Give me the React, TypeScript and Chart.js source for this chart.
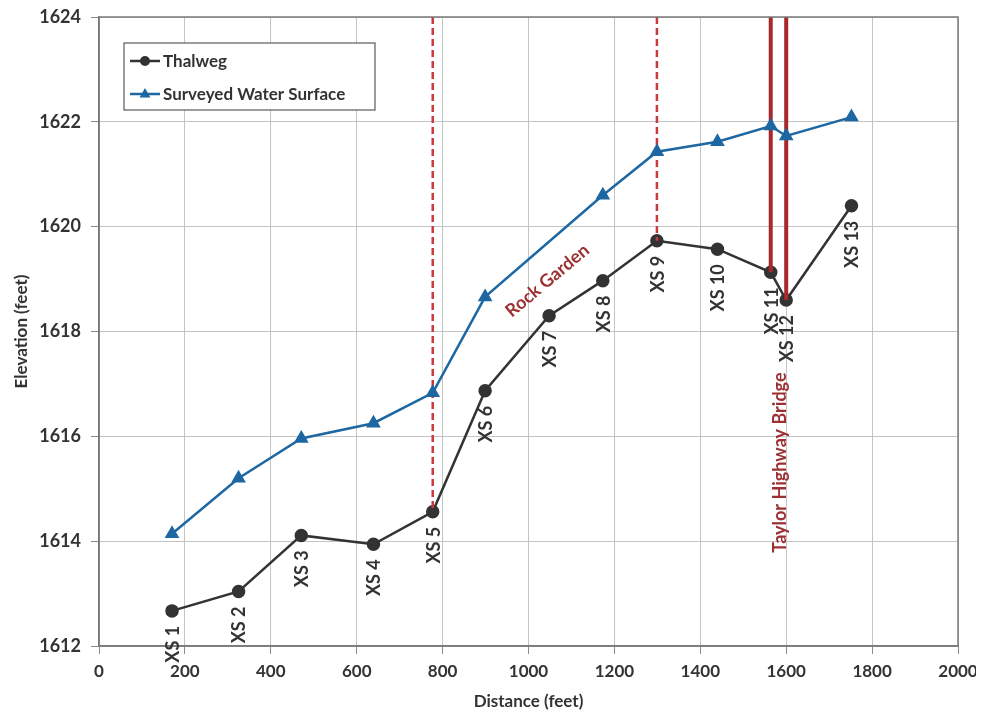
import React, { useEffect, useRef } from "react";
import { Chart, registerables } from "chart.js";

Chart.register(...registerables);

// ---- data ----
const sectionLabels = ["XS 1", "XS 2", "XS 3", "XS 4", "XS 5", "XS 6", "XS 7", "XS 8", "XS 9", "XS 10", "XS 11", "XS 12", "XS 13"];
const distances = [170, 325, 471, 639, 777, 899, 1048, 1173, 1299, 1440, 1564, 1600, 1752];
const thalweg = [1612.67, 1613.04, 1614.11, 1613.94, 1614.56, 1616.87, 1618.3, 1618.97, 1619.73, 1619.57, 1619.13, 1618.6, 1620.4];
const waterSurface = [1614.14, 1615.2, 1615.96, 1616.25, 1616.83, 1618.66, null, 1620.6, 1621.43, 1621.62, 1621.92, 1621.73, 1622.09];
const dashedSections = [4, 8]; // Rock Garden limits
const solidSections = [10, 11]; // Taylor Highway Bridge
const xTicks = { min: 0, max: 2000, step: 200 };
const yTicks = { min: 1612, max: 1624, step: 2 };
const rockGardenAt = { x: 1044, y: 1618.97, text: "Rock Garden" };
const bridgeAt = { x: 1587, y: 1615.5, text: "Taylor Highway Bridge" };

const FONT = "Lato, 'Open Sans', 'DejaVu Sans', sans-serif";
const TEXT = "#333333";
const RED_LABEL = "#9c3033";

const verticalLine = (i: number, dashed: boolean) => ({
  label: "_v" + i,
  data: [
    { x: distances[i], y: yTicks.max },
    { x: distances[i], y: thalweg[i] },
  ],
  borderColor: dashed ? "#c83a3c" : "#a8282c",
  borderWidth: dashed ? 2.5 : 4,
  borderDash: dashed ? [7, 4] : [],
  pointRadius: 0,
  order: 1,
  inLegend: false,
});

const legendPlugin = {
  id: "boxLegend",
  afterDraw(chart: any) {
    const { ctx, chartArea } = chart;
    const x0 = chartArea.left + 25;
    const y0 = chartArea.top + 26;
    const w = 251;
    const h = 67;
    ctx.save();
    ctx.fillStyle = "#ffffff";
    ctx.fillRect(x0, y0, w, h);
    ctx.strokeStyle = "#5a5a5a";
    ctx.lineWidth = 1.2;
    ctx.strokeRect(x0, y0, w, h);
    const items = chart.data.datasets.filter((d: any) => d.inLegend);
    items.forEach((d: any, k: number) => {
      const cy = y0 + 18 + k * 33;
      const lx = x0 + 6;
      ctx.strokeStyle = d.borderColor;
      ctx.lineWidth = d.borderWidth;
      ctx.setLineDash([]);
      ctx.beginPath();
      ctx.moveTo(lx, cy);
      ctx.lineTo(lx + 30, cy);
      ctx.stroke();
      ctx.fillStyle = d.pointBackgroundColor;
      ctx.beginPath();
      if (d.pointStyle === "triangle") {
        const r = 6;
        ctx.moveTo(lx + 15, cy - r);
        ctx.lineTo(lx + 15 + r * 0.9, cy + r * 0.6);
        ctx.lineTo(lx + 15 - r * 0.9, cy + r * 0.6);
        ctx.closePath();
      } else {
        ctx.arc(lx + 15, cy, 5, 0, Math.PI * 2);
      }
      ctx.fill();
      ctx.fillStyle = TEXT;
      ctx.font = `bold 17px ${FONT}`;
      ctx.textAlign = "left";
      ctx.textBaseline = "middle";
      ctx.fillText(d.label, lx + 33, cy + 1);
    });
    ctx.restore();
  },
};

const borderPlugin = {
  id: "plotBorder",
  afterDatasetsDraw(chart: any) {
    const { ctx, chartArea } = chart;
    ctx.save();
    ctx.strokeStyle = "#7a7a7a";
    ctx.lineWidth = 1.5;
    ctx.strokeRect(chartArea.left, chartArea.top, chartArea.right - chartArea.left, chartArea.bottom - chartArea.top);
    ctx.restore();
  },
};

const labelPlugin = {
  id: "sectionLabels",
  afterDatasetsDraw(chart: any) {
    const { ctx, scales } = chart;
    const xs = scales.x;
    const ys = scales.y;
    ctx.save();
    ctx.font = `bold 18px ${FONT}`;
    ctx.fillStyle = TEXT;
    ctx.textBaseline = "middle";
    ctx.textAlign = "right";
    sectionLabels.forEach((lab, i) => {
      const px = xs.getPixelForValue(distances[i]);
      const py = ys.getPixelForValue(thalweg[i]);
      ctx.save();
      ctx.translate(px + 1, py + 15);
      ctx.rotate(-Math.PI / 2);
      ctx.fillText(lab, 0, 0);
      ctx.restore();
    });
    // annotations
    ctx.fillStyle = RED_LABEL;
    ctx.textAlign = "center";
    ctx.save();
    ctx.translate(xs.getPixelForValue(rockGardenAt.x), ys.getPixelForValue(rockGardenAt.y));
    ctx.rotate((-40 * Math.PI) / 180);
    ctx.fillText(rockGardenAt.text, 0, 0);
    ctx.restore();
    ctx.save();
    ctx.translate(xs.getPixelForValue(bridgeAt.x), ys.getPixelForValue(bridgeAt.y));
    ctx.rotate(-Math.PI / 2);
    ctx.fillText(bridgeAt.text, 0, 0);
    ctx.restore();
    ctx.restore();
  },
};

const plain = (v: any) => String(v);

export default function App() {
  const ref = useRef<HTMLCanvasElement | null>(null);
  useEffect(() => {
    if (!ref.current) return;
    const datasets: any[] = [
      {
        label: "Thalweg",
        data: distances.map((d, i) => ({ x: d, y: thalweg[i] })),
        borderColor: "#333333",
        backgroundColor: "#333333",
        pointBackgroundColor: "#333333",
        pointBorderColor: "#333333",
        borderWidth: 2.5,
        pointStyle: "circle",
        pointRadius: 5.5,
        order: 2,
        inLegend: true,
      },
      {
        label: "Surveyed Water Surface",
        data: distances.map((d, i) => ({ x: d, y: waterSurface[i] })),
        borderColor: "#1d67a3",
        backgroundColor: "#1d67a3",
        pointBackgroundColor: "#1d67a3",
        pointBorderColor: "#1d67a3",
        borderWidth: 2.5,
        pointStyle: "triangle",
        pointRadius: 6,
        spanGaps: true,
        order: 0,
        inLegend: true,
      },
      ...dashedSections.map((i) => verticalLine(i, true)),
      ...solidSections.map((i) => verticalLine(i, false)),
    ];
    const chart = new Chart(ref.current, {
      type: "line",
      data: { datasets },
      options: {
        responsive: false,
        animation: false,
        layout: { padding: { top: 9, right: 26, left: 0, bottom: 0 } },
        plugins: { legend: { display: false }, tooltip: { enabled: false } },
        scales: {
          x: {
            type: "linear",
            min: xTicks.min,
            max: xTicks.max,
            ticks: {
              stepSize: xTicks.step,
              color: TEXT,
              font: { family: FONT, size: 17, weight: "bold" },
              padding: 7,
              maxRotation: 0,
              callback: plain,
            },
            grid: { color: "#c4c4c4", lineWidth: 1, tickLength: 8, tickColor: "#8a8a8a" },
            border: { display: true, color: "#7a7a7a", width: 1.5 },
            title: {
              display: true,
              text: "Distance (feet)",
              color: TEXT,
              font: { family: FONT, size: 17, weight: "bold", lineHeight: 1 },
              padding: { top: 0, bottom: 0 },
            },
            afterFit: (s: any) => {
              s.height = 64;
              s.paddingLeft = 0;
              s.paddingRight = 0;
            },
          },
          y: {
            type: "linear",
            min: yTicks.min,
            max: yTicks.max,
            ticks: {
              stepSize: yTicks.step,
              color: TEXT,
              font: { family: FONT, size: 18, weight: "bold" },
              padding: 10,
              callback: plain,
            },
            grid: { color: "#c4c4c4", lineWidth: 1, tickLength: 8, tickColor: "#8a8a8a" },
            border: { display: true, color: "#7a7a7a", width: 1.5 },
            title: {
              display: true,
              text: "Elevation (feet)",
              color: TEXT,
              font: { family: FONT, size: 17, weight: "bold", lineHeight: 1 },
              padding: { top: 5, bottom: 0 },
            },
            afterFit: (s: any) => {
              s.width = 91;
              s.paddingTop = 0;
              s.paddingBottom = 0;
            },
          },
        },
      },
      plugins: [borderPlugin, labelPlugin, legendPlugin],
    } as any);
    return () => chart.destroy();
  }, []);
  return (
    <div style={{ width: 976, height: 702 }}>
      <canvas ref={ref} width={976} height={702} style={{ display: "block" }} />
    </div>
  );
}
